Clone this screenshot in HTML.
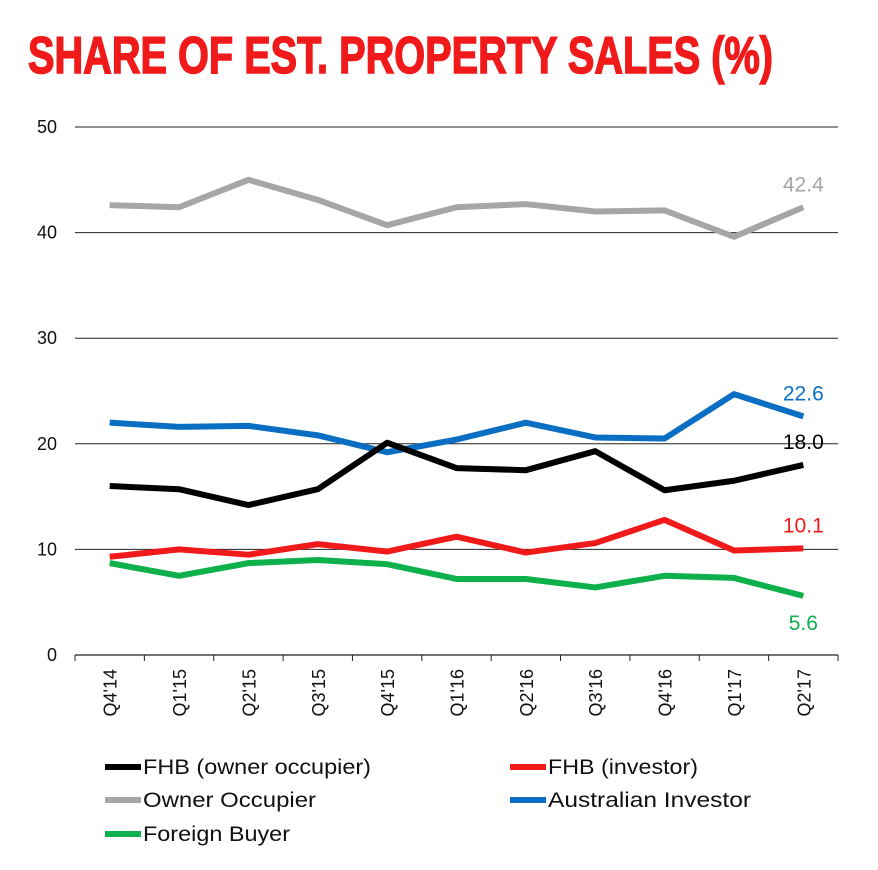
<!DOCTYPE html>
<html><head><meta charset="utf-8"><style>
body{margin:0;background:#fff;}
svg{display:block;font-family:"Liberation Sans",sans-serif;}
</style></head><body>
<svg id="chart" width="878" height="870" viewBox="0 0 878 870">
<text x="28" y="73" font-family="'Liberation Sans Narrow','Liberation Sans',sans-serif" font-weight="bold" font-size="52" fill="#f01a1a" stroke="#f01a1a" stroke-width="1.5" textLength="745" lengthAdjust="spacingAndGlyphs">SHARE OF EST. PROPERTY SALES (%)</text>
<g id="grid"></g><g id="axes"></g><g id="series"></g><g id="legend"></g>
</svg>
<script>
const categories=["Q4'14","Q1'15","Q2'15","Q3'15","Q4'15","Q1'16","Q2'16","Q3'16","Q4'16","Q1'17","Q2'17"];
const ownerOccupier=[42.6,42.4,45.0,43.1,40.7,42.4,42.7,42.0,42.1,39.6,42.4];
const australianInvestor=[22.0,21.6,21.7,20.8,19.2,20.4,22.0,20.6,20.5,24.7,22.6];
const fhbOwner=[16.0,15.7,14.2,15.7,20.1,17.7,17.5,19.3,15.6,16.5,18.0];
const fhbInvestor=[9.3,10.0,9.5,10.5,9.8,11.2,9.7,10.6,12.8,9.9,10.1];
const foreignBuyer=[8.7,7.5,8.7,9.0,8.6,7.2,7.2,6.4,7.5,7.3,5.6];
const yTicks=[0,10,20,30,40,50];
const NS="http://www.w3.org/2000/svg";
const x0=75,x1=838,y0=655,yTop=127;
const step=(x1-x0)/categories.length;
const xs=i=>x0+step*(i+0.5);
const ys=v=>y0-(v/50)*(y0-yTop);
function mk(tag,attrs,parent){const e=document.createElementNS(NS,tag);for(const k in attrs)e.setAttribute(k,attrs[k]);parent.appendChild(e);return e;}
const grid=document.getElementById('grid'),axes=document.getElementById('axes'),series=document.getElementById('series'),legend=document.getElementById('legend');
yTicks.forEach(t=>{
 if(t>0){const l=mk('line',{x1:x0,x2:x1,y1:ys(t),y2:ys(t),stroke:'#222','stroke-width':1},grid);
 
 }
 const tx=mk('text',{x:57,y:ys(t)+6,'text-anchor':'end','font-size':18,fill:'#111'},axes);tx.textContent=t;
 
 
});
const ax=mk('line',{x1:x0,x2:x1,y1:y0,y2:y0,stroke:'#222','stroke-width':1.2},axes);


for(let i=0;i<=categories.length;i++){mk('line',{x1:x0+step*i,x2:x0+step*i,y1:y0,y2:y0+6,stroke:'#222'},axes);}
categories.forEach((c,i)=>{
 const tx=mk('text',{x:0,y:0,transform:`translate(${xs(i)+7},${y0+14}) rotate(-90)`,'text-anchor':'end','font-size':18,fill:'#111'},axes);tx.textContent=c;
 
 
});
const defs=[
 {d:ownerOccupier,c:'#a6a6a6',n:'owner-occupier',lab:'42.4',ly:-16},
 {d:australianInvestor,c:'#0a6fc2',n:'australian-investor',lab:'22.6',ly:-16},
 {d:fhbOwner,c:'#000',n:'fhb-owner',lab:'18.0',ly:-16},
 {d:fhbInvestor,c:'#f01a1a',n:'fhb-investor',lab:'10.1',ly:-16},
 {d:foreignBuyer,c:'#0db04b',n:'foreign-buyer',lab:'5.6',ly:34}
];
defs.forEach(s=>{
 const p=mk('polyline',{points:s.d.map((v,i)=>xs(i)+','+ys(v)).join(' '),fill:'none',stroke:s.c,'stroke-width':6,'stroke-linejoin':'round'},series);
 
 
 const last=s.d.length-1;
 const t=mk('text',{x:xs(last),y:ys(s.d[last])+s.ly,'text-anchor':'middle','font-size':21,fill:s.c},series);t.textContent=s.lab;
 
 
});
const leg=[
 ['FHB (owner occupier)','#000',105,767,228],['FHB (investor)','#f01a1a',510,767,150],
 ['Owner Occupier','#a6a6a6',105,800,173],['Australian Investor','#0a6fc2',510,800,203],
 ['Foreign Buyer','#0db04b',105,834,147]];
leg.forEach(([t,c,x,y,w])=>{
 const g=mk('g',{},legend);
 
 
 mk('line',{x1:x,x2:x+36,y1:y,y2:y,stroke:c,'stroke-width':6},g);
 const tx=mk('text',{x:x+38,y:y+7,'font-size':21,fill:'#111',textLength:w,lengthAdjust:'spacingAndGlyphs'},g);tx.textContent=t;
});
</script>
</body></html>
